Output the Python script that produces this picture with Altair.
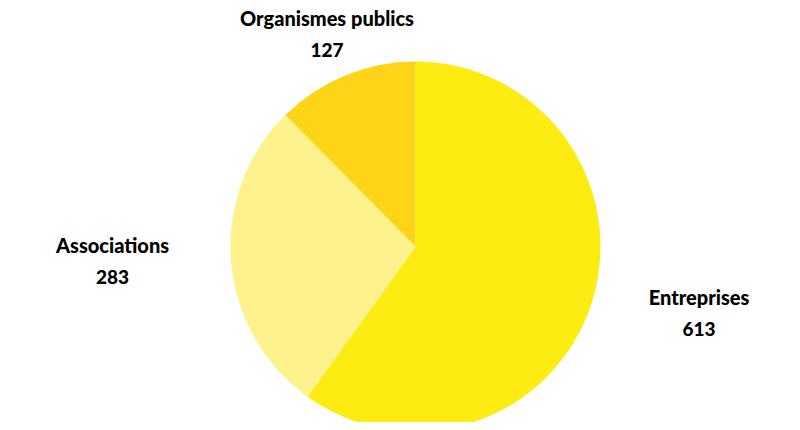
import altair as alt
import pandas as pd

categories = ["Entreprises", "Associations", "Organismes publics"]
values = [613, 283, 127]
colors = ["#FDEC11", "#FEF28C", "#FDD418"]

df = pd.DataFrame({"cat": categories, "value": values, "idx": list(range(len(categories)))})

# label layout: distance from pie centre and angular nudge (degrees), per category
label_r = {"Entreprises": 291.7, "Associations": 303.4, "Organismes publics": 229}
label_nudge = {"Entreprises": -4.3, "Associations": 1.4, "Organismes publics": -0.4}


def lookup_expr(d, default):
    return " : ".join([f"datum.cat == '{k}' ? {v}" for k, v in d.items()]) + f" : {default}"


CX, CY, R = 407.5, 238.5, 185

arcs = alt.Chart(df).mark_arc(outerRadius=R, stroke=None).encode(
    theta=alt.Theta("value:Q", stack=True),
    order=alt.Order("idx:Q"),
    color=alt.Color("cat:N", scale=alt.Scale(domain=categories, range=colors), legend=None, sort=categories),
    x=alt.value(CX),
    y=alt.value(CY),
)

labels = (
    alt.Chart(df)
    .transform_joinaggregate(total="sum(value)")
    .transform_window(cum="sum(value)", sort=[alt.SortField("idx")], frame=[None, 0])
    .transform_calculate(
        nudge=lookup_expr(label_nudge, 0),
        lr=lookup_expr(label_r, 260),
        vtxt="format(datum.value, 'd')",
    )
    .transform_calculate(
        mid="(datum.cum - datum.value / 2) / datum.total * 2 * PI + datum.nudge * PI / 180",
    )
    .encode(
        theta=alt.Theta("mid:Q", scale=None, stack=None),
        radius=alt.Radius("lr:Q", scale=None),
        x=alt.value(CX),
        y=alt.value(CY),
    )
)

name_text = labels.mark_text(font="Lato", fontSize=20, fontWeight=900, color="#000000", dy=-15.5).encode(
    text="cat:N",
)
num_text = labels.mark_text(font="Lato", fontSize=19, fontWeight=900, color="#000000", dy=15.5).encode(
    text="vtxt:N",
)

chart = alt.layer(arcs, name_text, num_text).resolve_scale(theta="independent").properties(
    width=784, height=414, padding=0, autosize=alt.AutoSizeParams(type="none")
).configure_view(stroke=None)

chart.save("out.html", embed_options={"renderer": "svg", "actions": False})
